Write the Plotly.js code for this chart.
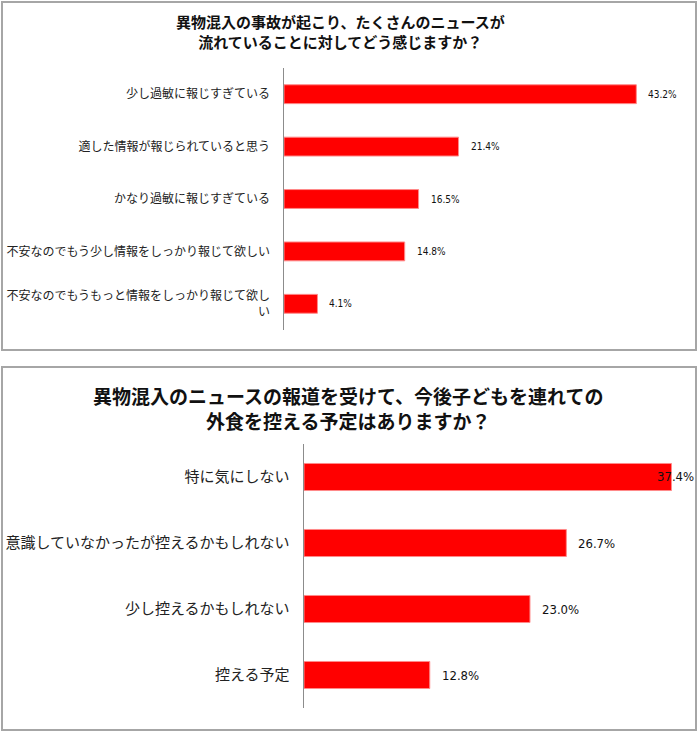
<!DOCTYPE html>
<html>
<head>
<meta charset="utf-8">
<script src="https://cdn.plot.ly/plotly-3.0.1.min.js"></script>
<style>
  html, body { margin: 0; padding: 0; background: #fff; }
  #chart { width: 698px; height: 733px; }
</style>
</head>
<body>
<div id="chart"></div>
<script type="text/javascript">

    /* * Chart 1 - ニュースに対してどう感じるか * */
    var chart1_title = '異物混入の事故が起こり、たくさんのニュースが<br>流れていることに対してどう感じますか？';
    var chart1_labels = [
        '少し過敏に報じすぎている',
        '適した情報が報じられていると思う',
        'かなり過敏に報じすぎている',
        '不安なのでもう少し情報をしっかり報じて欲しい',
        '不安なのでもうもっと情報をしっかり報じて欲し<br>い'
    ];
    var chart1_values = [43.2, 21.4, 16.5, 14.8, 4.1];

    /* * Chart 2 - 外食を控える予定 * */
    var chart2_title = '異物混入のニュースの報道を受けて、今後子どもを連れての<br>外食を控える予定はありますか？';
    var chart2_labels = [
        '特に気にしない',
        '意識していなかったが控えるかもしれない',
        '少し控えるかもしれない',
        '控える予定'
    ];
    var chart2_values = [37.4, 26.7, 23.0, 12.8];

    /* * Page geometry (px) * */
    var W = 698, H = 733;
    var jp_font = '"Noto Sans CJK JP", "Noto Sans", sans-serif';
    var num_font = '"DejaVu Sans Condensed", "Liberation Sans Narrow", "Liberation Sans", sans-serif';
    var bar_red = '#ff0000';

    function px_x(p) { return p / W; }
    function px_y(p) { return 1 - p / H; }

    // one chart = box + title + axis settings
    var charts = [
        { labels: chart1_labels, values: chart1_values, title: chart1_title,
          x0: 284, x1: 651, xmax: 45, y0: 68, y1: 330, barw: 0.36,
          box: [2, 2, 696, 350], titleX: 340, titleY: 32, titleSize: 15,
          tickSize: 12, valSize: 10, valW: 28, valGap: 10 },
        { labels: chart2_labels, values: chart2_values, title: chart2_title,
          x0: 304, x1: 697, xmax: 40, y0: 444, y1: 708, barw: 0.41,
          box: [2, 367, 696, 730], titleX: 348, titleY: 408, titleSize: 19,
          tickSize: 15, valSize: 13, valW: 38, valGap: 10 }
    ];

    var data = [];
    var annotations = [];
    var shapes = [];
    var layout = {
        width: W, height: H,
        margin: { l: 0, r: 0, t: 0, b: 0 },
        paper_bgcolor: '#fff', plot_bgcolor: 'rgba(0,0,0,0)',
        showlegend: false,
        font: { family: jp_font, color: '#222' }
    };

    for (var i = 0; i < charts.length; i++) {
        var c = charts[i];
        var sfx = i == 0 ? '' : String(i + 1);

        data.push({
            type: 'bar',
            orientation: 'h',
            x: c.values,
            y: c.labels,
            width: c.barw,
            xaxis: 'x' + sfx,
            yaxis: 'y' + sfx,
            marker: { color: bar_red, line: { color: '#ff8a8a', width: 1 } },
            hoverinfo: 'skip'
        });

        layout['xaxis' + sfx] = {
            domain: [px_x(c.x0), px_x(c.x1)],
            range: [0, c.xmax],
            visible: false,
            fixedrange: true,
            anchor: 'y' + sfx
        };
        layout['yaxis' + sfx] = {
            domain: [px_y(c.y1), px_y(c.y0)],
            type: 'category',
            autorange: 'reversed',
            showgrid: false,
            zeroline: false,
            showline: true,
            linecolor: '#8c8c8c',
            linewidth: 1.5,
            ticks: '',
            ticklabelstandoff: 10,
            tickfont: { family: jp_font, size: c.tickSize, color: '#222' },
            fixedrange: true,
            anchor: 'x' + sfx
        };

        // value labels next to each bar, kept inside the box
        var scale = (c.x1 - c.x0) / c.xmax;
        for (var j = 0; j < c.values.length; j++) {
            var barEnd = c.x0 + c.values[j] * scale;
            var shift = Math.min(c.valGap, c.box[2] - 3 - c.valW - barEnd);
            annotations.push({
                x: c.values[j], y: c.labels[j],
                xref: 'x' + sfx, yref: 'y' + sfx,
                text: c.values[j].toFixed(1) + '%',
                showarrow: false,
                xanchor: 'left', yanchor: 'middle',
                xshift: shift,
                font: { family: num_font, size: c.valSize, color: '#111' }
            });
        }

        annotations.push({
            x: px_x(c.titleX), y: px_y(c.titleY),
            xref: 'paper', yref: 'paper',
            text: '<b>' + c.title + '</b>',
            showarrow: false,
            xanchor: 'center', yanchor: 'middle',
            align: 'center',
            font: { family: jp_font, size: c.titleSize, color: '#111' }
        });

        shapes.push({
            type: 'rect', xref: 'paper', yref: 'paper',
            x0: px_x(c.box[0]), x1: px_x(c.box[2]),
            y0: px_y(c.box[3]), y1: px_y(c.box[1]),
            line: { color: '#a6a6a6', width: 2 },
            fillcolor: 'rgba(0,0,0,0)',
            layer: 'below'
        });
    }

    layout.annotations = annotations;
    layout.shapes = shapes;

    Plotly.newPlot(document.getElementById('chart'), data, layout, { displayModeBar: false, staticPlot: true });

</script>
</body>
</html>
